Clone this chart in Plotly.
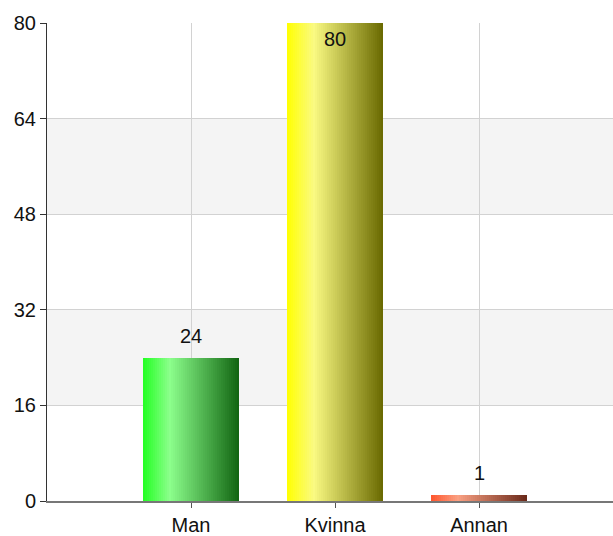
import plotly.graph_objects as go

categories = ["Man", "Kvinna", "Annan"]
values = [24, 80, 1]
y_ticks = [0, 16, 32, 48, 64, 80]
label_pos = ["above", "inside", "above"]

# gradient stops per bar: left, highlight, right
grad = [
    [(0.0, (34, 255, 34)), (0.28, (140, 255, 140)), (1.0, (17, 100, 17))],
    [(0.0, (255, 255, 0)), (0.28, (250, 250, 130)), (1.0, (105, 105, 0))],
    [(0.0, (255, 85, 45)), (0.28, (250, 160, 130)), (1.0, (105, 40, 25))],
]


def color_at(stops, t):
    for (t0, c0), (t1, c1) in zip(stops[:-1], stops[1:]):
        if t <= t1:
            f = (t - t0) / (t1 - t0) if t1 > t0 else 0
            c = [round(a + (b - a) * f) for a, b in zip(c0, c1)]
            return "rgb(%d,%d,%d)" % tuple(c)
    c = stops[-1][1]
    return "rgb(%d,%d,%d)" % c


BAR_W = 0.667
N = 48
fig = go.Figure()
for i in range(N):
    t = (i + 0.5) / N
    left = -BAR_W / 2 + i * BAR_W / N
    fig.add_trace(go.Bar(
        x=categories, y=values,
        width=BAR_W / 2 - left,
        offset=left,
        marker=dict(color=[color_at(g, t) for g in grad], line=dict(width=0)),
        hoverinfo="skip", showlegend=False,
    ))

for c, v, p in zip(categories, values, label_pos):
    fig.add_annotation(
        x=c, y=v, text=str(v), showarrow=False,
        yanchor="bottom" if p == "above" else "top",
        yshift=9 if p == "above" else -3,
        font=dict(size=20, color="#111111", family="Liberation Sans, Arial"),
    )

for lo, hi in [(16, 32), (48, 64)]:
    fig.add_shape(type="rect", xref="paper", yref="y", x0=0, x1=1, y0=lo, y1=hi,
                  fillcolor="#f4f4f4", line=dict(width=0), layer="below")

fig.update_layout(
    width=613, height=536,
    margin=dict(l=47, r=0, t=23, b=35, autoexpand=False),
    paper_bgcolor="white", plot_bgcolor="white",
    barmode="overlay", bargap=0,
    font=dict(family="Liberation Sans, Arial", size=20, color="#111111"),
    showlegend=False,
)
fig.update_xaxes(
    type="category", range=[-1, 2.93],
    showgrid=True, gridcolor="#d2d2d2", gridwidth=1,
    showline=True, linecolor="#777777", linewidth=2,
    ticks="outside", ticklen=5, tickcolor="#555555",
    tickfont=dict(size=20), zeroline=False,
)
fig.update_yaxes(
    range=[0, 80], tickvals=y_ticks, ticktext=[str(t) for t in y_ticks],
    showgrid=True, gridcolor="#d2d2d2", gridwidth=1,
    showline=True, linecolor="#333333", linewidth=1,
    ticks="outside", ticklen=6, tickcolor="#333333",
    tickfont=dict(size=20), zeroline=False,
)

fig.write_html(
    "out.html",
    config={"displayModeBar": False},
    post_script="document.body.style.margin='0';document.body.style.padding='0';"
                "document.body.style.overflow='hidden';",
)
